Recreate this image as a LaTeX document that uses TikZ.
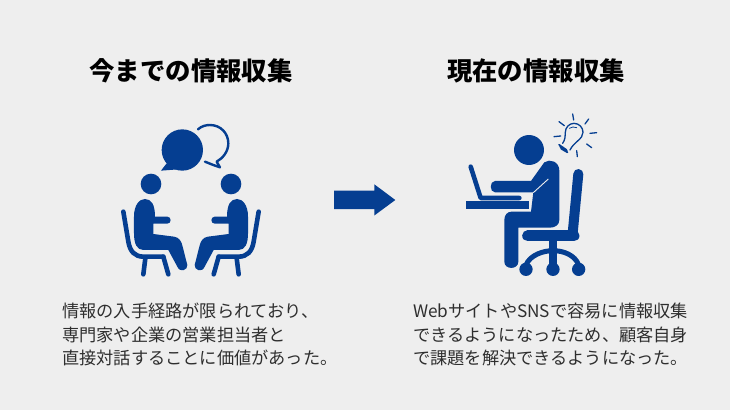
\documentclass[tikz,border=0pt]{standalone}
\usepackage{fontspec}
\setmainfont{Noto Sans CJK JP}
\definecolor{iconblue}{HTML}{053E91}
\definecolor{bggray}{HTML}{EEEEEE}
\definecolor{textgray}{HTML}{2E2E2E}
\newcommand{\sitperson}{%
    % head
    \fill[iconblue] (153,222) circle (31);
    % body
    \fill[iconblue] (135,267) .. controls (155,267) and (165,285) .. (165,320)
        -- (202,320) .. controls (215,320) and (215,341) .. (202,341) -- (160,341) -- (160,372)
        -- (222,380) .. controls (238,382) and (245,395) .. (248,410) -- (262,465)
        .. controls (264,480) and (240,490) .. (232,470) -- (205,420) -- (130,420)
        .. controls (110,420) and (102,400) .. (102,370) -- (102,320)
        .. controls (102,285) and (118,267) .. (135,267) -- cycle;
    % chair
    \draw[chairline] (70,305) -- (85,395) .. controls (90,425) and (105,440) .. (130,440) -- (190,440);
    \draw[chairline] (136,445) -- (130,493);
    \draw[chairline] (190,440) -- (205,493);
}
\tikzset{
    chairline/.style={iconblue,line width=4.6pt,line cap=round,line join=round},
    bulbline/.style={iconblue,line width=1.3pt,line cap=round},
    headline/.style={font=\fontsize{25.4}{30}\selectfont\bfseries,text=black,anchor=center,inner sep=0pt},
    bodytext/.style={font=\fontsize{17.2}{23.6}\selectfont,text=textgray,anchor=north west,align=left,inner sep=0pt},
}
\begin{document}
\begin{tikzpicture}[x=1pt,y=-1pt]

\fill[bggray] (0,0) rectangle (730,410);
\useasboundingbox (0,0) rectangle (730,410);

% titles
\node[headline] (title1) at (191,70.5) {今までの情報収集};
\node[headline] (title2) at (536,70.5) {現在の情報収集};

% left icon
\begin{scope}[shift={(100,110)},x=0.3333pt,y=-0.3333pt]
    \sitperson
    \begin{scope}[xshift=182pt,xscale=-1]
        \sitperson
    \end{scope}
    % speech bubbles
    \draw[iconblue,line width=2.4pt,line cap=round,line join=round] (294,58)
        .. controls (305,48) and (318,45) .. (330,45) .. controls (362,45) and (385,70) .. (385,100)
        .. controls (385,125) and (368,145) .. (350,155) -- (360,172) -- (340,165) -- (315,155);
    \fill[iconblue] (247,120) circle (62);
    \fill[iconblue] (200,160) -- (183,182) -- (235,178) -- cycle;
\end{scope}

% arrow
\fill[iconblue] (334,190.7) -- (374.3,190.7) -- (374.3,184.3) -- (395.3,200) -- (374.3,215.5)
    -- (374.3,209) -- (334,209) -- cycle;

% right icon
\begin{scope}[shift={(450,105)},x=0.3333pt,y=-0.3333pt]
    \fill[iconblue] (237,135) circle (45);
    % person
    \fill[iconblue] (283,172) .. controls (300,160) and (328,170) .. (328,197) -- (328,345)
        .. controls (328,360) and (315,368) .. (300,368) -- (205,368) -- (205,470)
        .. controls (205,495) and (163,495) .. (163,470) -- (163,345)
        .. controls (163,330) and (172,320) .. (185,320) -- (243,320) -- (250,262) -- (135,262)
        .. controls (118,262) and (118,228) .. (135,228) -- (243,228) -- cycle;
    \draw[bggray,line width=0.9pt] (250,263) -- (295,222);
    % table
    \fill[iconblue] (48,289) rectangle (237,311);
    % laptop
    \draw[chairline] (62,185) -- (92,279) -- (208,279);
    % chair
    \draw[iconblue,line width=10pt,line cap=round] (385,207) -- (368,385);
    \draw[iconblue,line width=11pt,line cap=round] (233,393) -- (372,393);
    \draw[iconblue,line width=7.5pt] (309,400) -- (309,490);
    \draw[iconblue,line width=5pt] (228,480) .. controls (240,450) and (280,437) .. (309,437)
        .. controls (340,437) and (375,450) .. (386,480);
    \foreach \wheelx in {228,309,386}
        \fill[iconblue] (\wheelx,493) circle (20);
\end{scope}

% bulb
\begin{scope}[shift={(550,110)},x=0.3333pt,y=-0.3333pt]
    \draw[bulbline] (38,100) .. controls (46,88) and (46,78) .. (46,67) .. controls (46,52) and (58,40) .. (72,40)
        .. controls (88,40) and (99,53) .. (99,67) .. controls (99,88) and (72,95) .. (60,120);
    \draw[bulbline,line width=0.8pt] (58,55) .. controls (65,50) and (72,50) .. (80,53);
    \foreach \bulbshift in {0,6,12}
        \draw[bulbline,line width=1.6pt] (27+\bulbshift*0.5,104+\bulbshift) -- (50+\bulbshift*0.2,120+\bulbshift*0.6);
    \draw[bulbline] (68,12) -- (71,30);
    \draw[bulbline] (116,27) -- (105,42);
    \draw[bulbline] (140,68) -- (120,70);
    \draw[bulbline] (125,113) -- (110,102);
    \draw[bulbline] (82,140) -- (80,122);
    \draw[bulbline] (12,80) -- (32,78);
    \draw[bulbline] (27,35) -- (43,47);
\end{scope}

% body text
\node[bodytext] (text1) at (62,303) {情報の入手経路が限られており、\\専門家や企業の営業担当者と\\直接対話することに価値があった。};
\node[bodytext] (text2) at (413,303) {WebサイトやSNSで容易に情報収集\\できるようになったため、顧客自身\\で課題を解決できるようになった。};

\end{tikzpicture}
\end{document}
